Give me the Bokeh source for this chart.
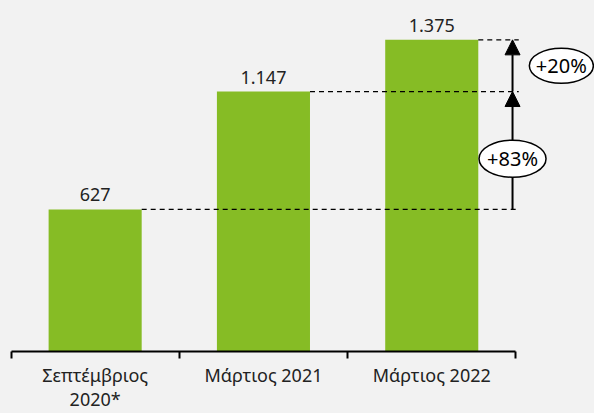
from bokeh.plotting import figure
from bokeh.models import Range1d, FixedTicker, Arrow, NormalHead
from bokeh.core.properties import value
from bokeh.embed import file_html
from bokeh.resources import INLINE

# ---- data ----
categories = ["Σεπτέμβριος\n2020*", "Μάρτιος 2021", "Μάρτιος 2022"]
values = [627, 1147, 1375]
growth_labels = ["+83%", "+20%"]

BAR_COLOR = "#86BC25"
BG = "#f2f2f2"
TEXT = "#222222"
FONT = "Noto Sans"

n = len(values)
centers = [i + 0.5 for i in range(n)]
bar_w = 0.553
value_text = [f"{v:,}".replace(",", ".") for v in values]

W, H = 594, 413
px_per_unit = 0.2273
frame_h = 352
px_per_cat = 168.3
left_px = 10.5

p = figure(width=W, height=H, output_backend="svg", toolbar_location=None,
           x_range=Range1d(-left_px / px_per_cat, (W - left_px) / px_per_cat),
           y_range=Range1d(0, frame_h / px_per_unit),
           y_axis_location=None, min_border=0)
p.min_border_bottom = H - frame_h
p.background_fill_color = BG
p.border_fill_color = BG
p.outline_line_color = None
p.xgrid.visible = False
p.ygrid.visible = False

ax = p.xaxis[0]
ax.ticker = FixedTicker(ticks=centers, minor_ticks=list(range(n + 1)))
ax.bounds = (0, n)
ax.major_label_overrides = {c: t for c, t in zip(centers, categories)}
ax.major_label_text_font = FONT
ax.major_label_text_font_size = "18px"
ax.major_label_text_color = TEXT
ax.major_label_text_line_height = 1.0
ax.major_label_standoff = 4
ax.major_tick_line_color = None
ax.major_tick_in = 0
ax.major_tick_out = 0
ax.minor_tick_in = 0
ax.minor_tick_out = 7
ax.minor_tick_line_width = 2
ax.minor_tick_line_color = "black"
ax.axis_line_width = 2
ax.axis_line_color = "black"

# bars
p.vbar(x=centers, top=values, width=bar_w, bottom=0, fill_color=BAR_COLOR, line_color=None)

# value labels
p.text(x=centers, y=values, text=value_text, text_align="center", text_baseline="bottom",
       y_offset=-8, text_font=value(FONT), text_font_size="18px", text_color=TEXT)

# dashed reference lines
x_end_dash = 3.017
p.segment(x0=[c + bar_w / 2 for c in centers], y0=values,
          x1=[x_end_dash] * n, y1=values,
          line_color="black", line_width=1.3, line_dash="5 4")

# arrows
x_arrow = 2.98
for a, b in zip(values[:-1], values[1:]):
    p.add_layout(Arrow(end=NormalHead(size=15, fill_color="black", line_color="black"),
                       x_start=x_arrow, y_start=a, x_end=x_arrow, y_end=b,
                       line_width=2, line_color="black", level="underlay"))

# growth ellipses
gx = [x_arrow, 3.27]
gy = [(a + b) / 2 for a, b in zip(values[:-1], values[1:])]
gy[0] = values[0] + 0.43 * (values[1] - values[0])
p.ellipse(x=gx, y=gy, width=[67, 64], height=[37, 35], width_units="screen",
          height_units="screen", fill_color="white", line_color="black", line_width=1.5)
p.text(x=gx, y=gy, text=growth_labels, text_align="center", text_baseline="middle",
       text_font=value(FONT), text_font_size="20px", text_color="black")

html = file_html(p, INLINE)
html = html.replace("<head>", "<head><style>body{background:%s;}</style>" % BG, 1)
open("out.html", "w").write(html)
